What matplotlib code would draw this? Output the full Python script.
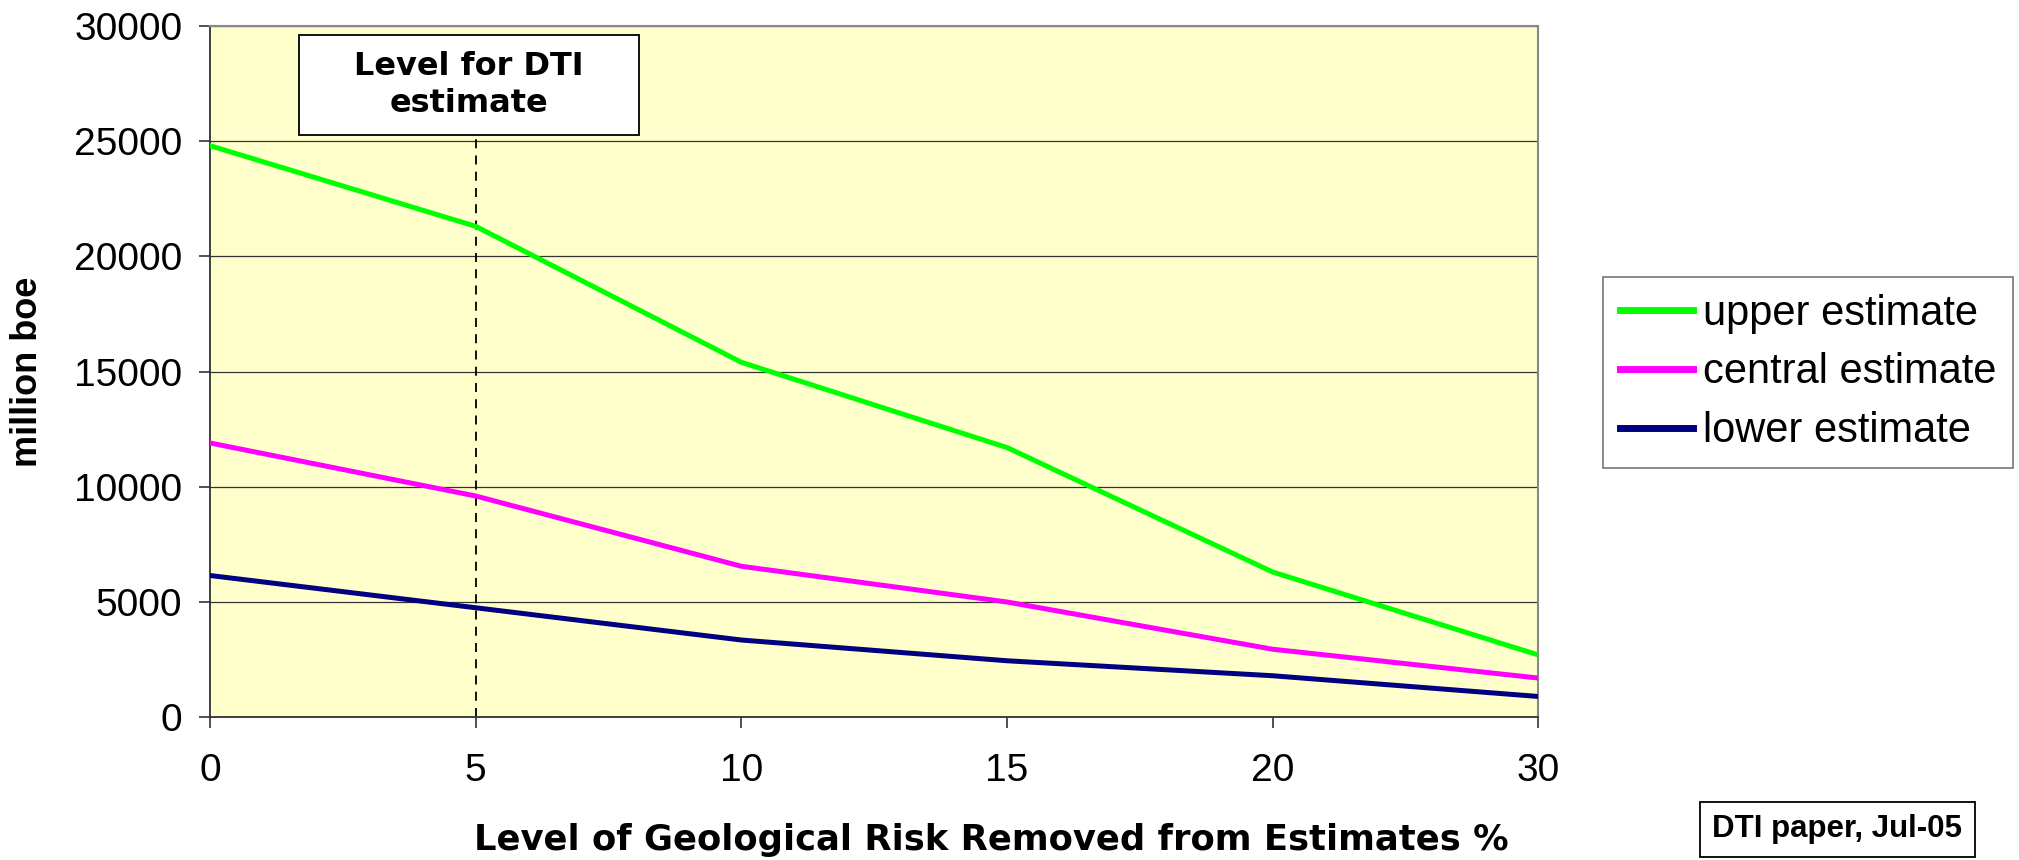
import numpy as np
import matplotlib
matplotlib.use("Agg")
import matplotlib.pyplot as plt
from matplotlib.patches import Rectangle

plt.rcParams['font.family'] = ['Liberation Sans', 'DejaVu Sans']

# data (million boe)
risk_levels = ['0', '5', '10', '15', '20', '30']
upper = [24800, 21300, 15400, 11700, 6300, 2700]
central = [11900, 9600, 6550, 5000, 2950, 1700]
lower = [6150, 4750, 3350, 2450, 1800, 900]
dti_level = '5'

fig = plt.figure(figsize=(20.19, 8.6), dpi=100)
ax = fig.add_axes([0.104, 0.166, 0.658, 0.804])
ax.set_facecolor('#FFFFCC')

x = np.arange(len(risk_levels))
ax.plot(x, upper, color='#00FF00', lw=3.6, label='upper estimate', zorder=3)
ax.plot(x, central, color='#FF00FF', lw=3.6, label='central estimate', zorder=3)
ax.plot(x, lower, color='#000080', lw=3.6, label='lower estimate', zorder=3)

ax.set_xlim(0, len(risk_levels) - 1)
ax.set_ylim(0, 30000)
ax.set_yticks(np.arange(0, 30001, 5000))
ax.set_xticks(x)
ax.set_xticklabels(risk_levels)
ax.yaxis.grid(True, color='#333333', lw=0.9)
ax.set_axisbelow(True)
ax.tick_params(axis='both', labelsize=28, length=8, width=1.2, color='#333333')
ax.tick_params(axis='y', pad=12)
ax.tick_params(axis='x', pad=18)
for s in ['left', 'bottom']:
    ax.spines[s].set_color('#333333')
    ax.spines[s].set_linewidth(1.3)
for s in ['top', 'right']:
    ax.spines[s].set_color('#888888')
    ax.spines[s].set_linewidth(1.5)

# marker for the DTI level
box_y0 = 0.842
xi = risk_levels.index(dti_level)
ax.vlines(xi, 0, box_y0 * 30000, colors='black', linestyles=(0, (5, 4)), lw=1.3, zorder=2)
ax.add_patch(Rectangle((0.0668, box_y0), 0.2562, 0.987 - box_y0, transform=ax.transAxes,
                       facecolor='white', edgecolor='black', lw=1.3, zorder=4))
ax.text(0.195, 0.914, 'Level for DTI\nestimate', transform=ax.transAxes, ha='center', va='center',
        fontsize=23, fontweight='bold', family='DejaVu Sans', linespacing=1.25, zorder=5)

fig.text(0.0135, 0.568, 'million boe', rotation=90, ha='center', va='center',
         fontsize=26, fontweight='bold')
fig.text(0.491, 0.023, 'Level of Geological Risk Removed from Estimates %', ha='center', va='center',
         fontsize=25.5, fontweight='bold', family='DejaVu Sans')

leg = fig.legend(loc='upper left', bbox_to_anchor=(0.794, 0.678), fontsize=30, frameon=True,
                 fancybox=False, handlelength=1.75, handletextpad=0.25, labelspacing=0.45,
                 borderpad=0.4, borderaxespad=0)
leg.get_frame().set_edgecolor('#555555')
leg.get_frame().set_linewidth(1.2)
for line in leg.get_lines():
    line.set_linewidth(5)

fig.text(0.910, 0.036, 'DTI paper, Jul-05', ha='center', va='center', fontsize=22.5, fontweight='bold',
         bbox=dict(boxstyle='square,pad=0.4', facecolor='white', edgecolor='black', lw=1.3))

fig.savefig('out.png', dpi=100)
